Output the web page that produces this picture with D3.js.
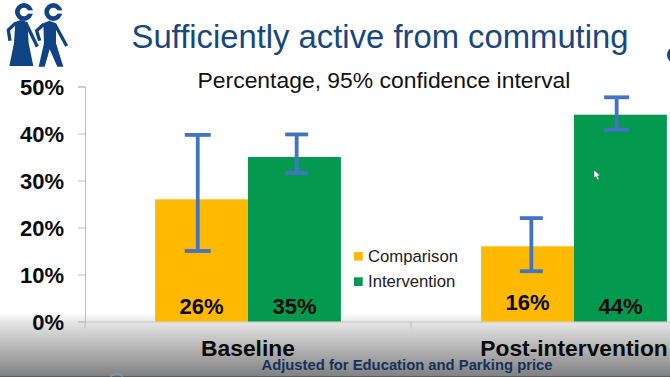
<!DOCTYPE html>
<html>
<head>
<meta charset="utf-8">
<script src="https://cdn.jsdelivr.net/npm/d3@7"></script>
<style>
  html, body { margin: 0; padding: 0; background: #fff; overflow: hidden; }
  text { font-family: "Liberation Sans", Arial, sans-serif; }
</style>
</head>
<body>
<div id="chart"></div>
<script>
var periods = ["Baseline", "Post-intervention"];
var groups = ["Comparison", "Intervention"];
var colors = ["#ffb900", "#03994f"];
var comparison = [26, 16];
var intervention = [35, 44];
var comparisonLow = [15, 10.7];
var comparisonHigh = [39.7, 22];
var interventionLow = [31.6, 40.8];
var interventionHigh = [39.8, 47.7];
var valueLabels = [["26%", "35%"], ["16%", "44%"]];
var yTicks = [0, 10, 20, 30, 40, 50];

// hand placed on the slide: whiskers are not centred on their bars
var whiskerNudge = [-3.8, 2.2, 3.8, -3.8];
var capHalf = [13, 11.5, 11.5, 12.5];
var labelBaseline = [313.5, 313.5, 309.5, 314];

var width = 670, height = 377;
var plot = {left: 85, right: 737, top: 86.5, bottom: 321.5};

var svg = d3.select("#chart").append("svg")
    .attr("width", width)
    .attr("height", height)
    .style("display", "block");

var grad = svg.append("defs").append("linearGradient")
    .attr("id", "shade")
    .attr("x1", 0).attr("y1", 0).attr("x2", 0).attr("y2", 1);
grad.append("stop").attr("offset", "0%").attr("stop-color", "#ffffff");
grad.append("stop").attr("offset", "14%").attr("stop-color", "#e6e6e6");
grad.append("stop").attr("offset", "100%").attr("stop-color", "#7f7f7f");

var y = d3.scaleLinear().domain([0, 50]).range([plot.bottom, plot.top]);
var x0 = d3.scaleBand().domain(periods).range([plot.left, plot.right]).paddingInner(0.43).paddingOuter(0.215);
var x1 = d3.scaleBand().domain(groups).range([0, x0.bandwidth()]);

// rows for the bars, built from the arrays above
var rows = [];
periods.forEach(function(p, i) {
    rows.push({period: p, group: groups[0], value: comparison[i], low: comparisonLow[i], high: comparisonHigh[i], label: valueLabels[i][0], color: colors[0]});
    rows.push({period: p, group: groups[1], value: intervention[i], low: interventionLow[i], high: interventionHigh[i], label: valueLabels[i][1], color: colors[1]});
});

function barCenter(d) { return x0(d.period) + x1(d.group) + x1.bandwidth() / 2; }
function whiskerX(d, i) { return barCenter(d) + whiskerNudge[i]; }

// grey band across the bottom of the slide
svg.append("rect")
    .attr("x", 0).attr("y", 313)
    .attr("width", width).attr("height", height - 313)
    .attr("fill", "url(#shade)");
svg.append("rect")
    .attr("x", 0).attr("y", 376)
    .attr("width", width).attr("height", 1)
    .attr("fill", "#5a5f63");
svg.append("circle")
    .attr("cx", 116.7).attr("cy", 380).attr("r", 6.5)
    .attr("fill", "none").attr("stroke", "#6aa5d8").attr("stroke-width", 1.2);

// axes
var yAxis = svg.append("g")
    .attr("transform", "translate(" + plot.left + ",0)")
    .call(d3.axisLeft(y).tickValues(yTicks).tickSize(7).tickPadding(14).tickFormat(function(d) { return d + "%"; }));
yAxis.selectAll("path, line").attr("stroke", "#bdbdbd").attr("stroke-width", 1);
yAxis.selectAll("text")
    .attr("dy", ".36em")
    .attr("fill", "#0a0a0a")
    .style("font-size", "22px")
    .style("font-weight", "bold")
    .style("font-family", '"Liberation Sans", Arial, sans-serif');

var xAxis = svg.append("g")
    .attr("transform", "translate(0," + plot.bottom + ")")
    .call(d3.axisBottom(x0).tickSize(0).tickPadding(18));
xAxis.select("path").attr("stroke", "#c4c4c4").attr("stroke-width", 1);
xAxis.selectAll("text")
    .attr("fill", "#0a0a0a")
    .style("font-size", "22.8px")
    .style("font-weight", "bold")
    .style("font-family", '"Liberation Sans", Arial, sans-serif');

// axis ticks between the groups
svg.append("g").selectAll("line")
    .data([plot.left, (plot.left + plot.right) / 2])
    .enter().append("line")
    .attr("x1", function(d) { return d; })
    .attr("x2", function(d) { return d; })
    .attr("y1", plot.bottom)
    .attr("y2", plot.bottom + 7)
    .attr("stroke", "#bdbdbd");

// bars
svg.append("g").selectAll("rect")
    .data(rows)
    .enter().append("rect")
    .attr("x", function(d) { return x0(d.period) + x1(d.group); })
    .attr("y", function(d) { return y(d.value); })
    .attr("width", x1.bandwidth())
    .attr("height", function(d) { return y(0) - y(d.value); })
    .attr("fill", function(d) { return d.color; });

// error bars
var errs = svg.append("g")
    .attr("stroke", "#4472c4")
    .attr("stroke-width", 3.8)
    .attr("fill", "none");
errs.selectAll(".stem").data(rows).enter().append("line")
    .attr("class", "stem")
    .attr("x1", whiskerX).attr("x2", whiskerX)
    .attr("y1", function(d) { return y(d.low); })
    .attr("y2", function(d) { return y(d.high); });
errs.selectAll(".capLow").data(rows).enter().append("line")
    .attr("class", "capLow")
    .attr("x1", function(d, i) { return whiskerX(d, i) - capHalf[i]; })
    .attr("x2", function(d, i) { return whiskerX(d, i) + capHalf[i]; })
    .attr("y1", function(d) { return y(d.low); })
    .attr("y2", function(d) { return y(d.low); });
errs.selectAll(".capHigh").data(rows).enter().append("line")
    .attr("class", "capHigh")
    .attr("x1", function(d, i) { return whiskerX(d, i) - capHalf[i]; })
    .attr("x2", function(d, i) { return whiskerX(d, i) + capHalf[i]; })
    .attr("y1", function(d) { return y(d.high); })
    .attr("y2", function(d) { return y(d.high); });

// value labels inside the bars
svg.append("g").selectAll("text")
    .data(rows)
    .enter().append("text")
    .attr("x", barCenter)
    .attr("y", function(d, i) { return labelBaseline[i]; })
    .attr("text-anchor", "middle")
    .attr("fill", "#0a0a0a")
    .style("font-size", "22px")
    .style("font-weight", "bold")
    .text(function(d) { return d.label; });

// legend
var legend = svg.append("g").selectAll("g")
    .data(groups)
    .enter().append("g")
    .attr("transform", function(d, i) { return "translate(354," + (252 + i * 25.3) + ")"; });
legend.append("rect")
    .attr("width", 8.7).attr("height", 8.7)
    .attr("fill", function(d, i) { return colors[i]; });
legend.append("text")
    .attr("x", 14).attr("y", 9.7)
    .attr("fill", "#222")
    .style("font-size", "16.7px")
    .text(function(d) { return d; });

// titles
svg.append("text")
    .attr("x", 380).attr("y", 48)
    .attr("text-anchor", "middle")
    .attr("fill", "#17477d")
    .style("font-size", "32.8px")
    .text("Sufficiently active from commuting");
svg.append("text")
    .attr("x", 384).attr("y", 87.5)
    .attr("text-anchor", "middle")
    .attr("fill", "#111")
    .style("font-size", "22.9px")
    .text("Percentage, 95% confidence interval");
svg.append("text")
    .attr("x", 407).attr("y", 370)
    .attr("text-anchor", "middle")
    .attr("fill", "#15325f")
    .style("font-size", "14.8px")
    .style("font-weight", "bold")
    .text("Adjusted for Education and Parking price");

// slide logo at top left, two figures
var icon = svg.append("g").attr("transform", "scale(0.3333)");
var logoBlue = "#0f4383";
[[72, 36], [160, 36]].forEach(function(h) {
    icon.append("circle").attr("cx", h[0]).attr("cy", h[1]).attr("r", 20)
        .attr("fill", "none").attr("stroke", logoBlue).attr("stroke-width", 14);
    icon.append("rect").attr("x", h[0] + 4).attr("y", h[1] - 5).attr("width", 26).attr("height", 10)
        .attr("fill", "#fff");
});
icon.append("path").attr("fill", logoBlue)
    .attr("d", "M46,66L62,60L82,66L86,130L100,198L28,198L42,130Z");
icon.append("path").attr("fill", logoBlue)
    .attr("d", "M130,70L148,62L168,70L168,130L190,200L172,200L149,148L134,200L116,200L132,130Z");
icon.append("path").attr("fill", "none").attr("stroke", logoBlue).attr("stroke-width", 10)
    .attr("stroke-linejoin", "round")
    .attr("d", "M48,68L25,90L30,122M78,70L112,140M132,72L110,92L119,122M164,72L200,138");

// edge of a round logo at the right
svg.append("circle")
    .attr("cx", 675).attr("cy", 55).attr("r", 8)
    .attr("fill", "#17477d");

// mouse pointer caught in the screenshot
svg.append("path")
    .attr("d", "M594,170L594,178L596,176.5L597.5,180L599,179.3L597.5,176L600,175.5Z")
    .attr("fill", "#fff")
    .attr("stroke", "#555")
    .attr("stroke-width", 0.5);
</script>
</body>
</html>
